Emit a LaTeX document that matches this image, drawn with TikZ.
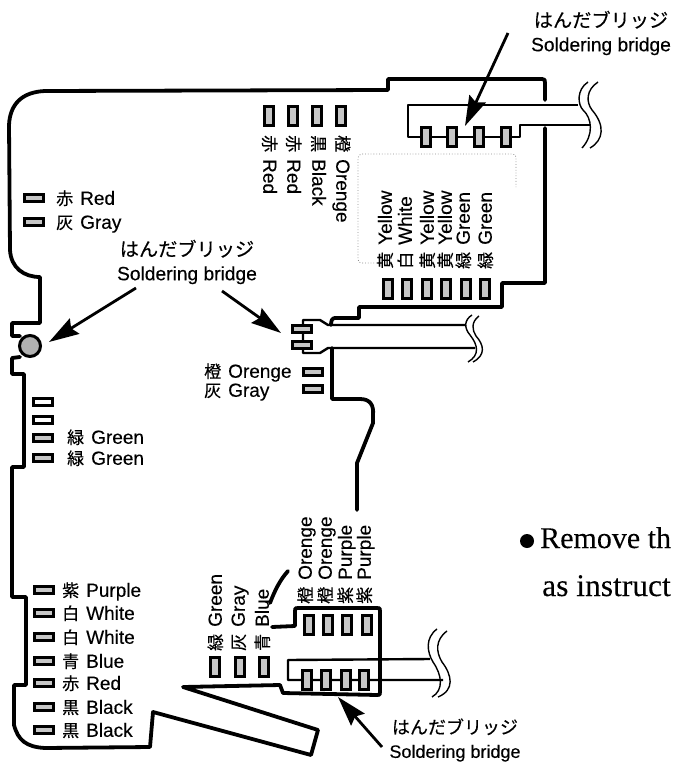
\documentclass[tikz,border=0pt]{standalone}
\usepackage{fontspec}
\setmainfont[FakeBold=0.3]{Liberation Sans}
\newfontfamily\jpf[FakeBold=0.35]{Noto Sans CJK JP}
\newfontfamily\serf[FakeBold=0.15]{Liberation Serif}
\usetikzlibrary{arrows.meta}
\newcommand{\lab}[2]{{\jpf\fontsize{17}{17}\selectfont #1}\hspace{7pt}#2}
\tikzset{
  wall/.style={line width=3.8pt,line join=round,line cap=round},
  wire/.style={line width=2.4pt,line join=round},
  brk/.style={line width=1.4pt},
  padh/.style={draw,line width=3pt,fill=black!22,inner sep=0pt,minimum width=19pt,minimum height=7pt},
  padv/.style={draw,line width=3pt,fill=black!22,inner sep=0pt,minimum width=8.5pt,minimum height=19pt},
  padw/.style={draw,line width=2.6pt,fill=white,inner sep=0pt,minimum width=19pt,minimum height=7pt},
  txt/.style={inner sep=0pt,anchor=west,text height=13.5pt,text depth=0pt,font=\fontsize{19}{20}\selectfont},
  dn/.style={txt,rotate=-90},
  up/.style={txt,rotate=90},
  call/.style={inner sep=0pt,align=center,font=\fontsize{19.2}{24}\selectfont},
  poke/.style={line width=2.8pt,-{Stealth[length=30pt,width=18pt,inset=4pt]}},
  big/.style={inner sep=0pt,anchor=base west,font=\serf\fontsize{31.5}{32}\selectfont}
}
\begin{document}
\begin{tikzpicture}[x=1pt,y=-1pt]
\useasboundingbox (0,0) rectangle (673,762);
% housing outline
\draw[wall] (545,100) -- (545,83) .. controls (545,80) and (545,79) .. (542,79) -- (388,79) -- (388,90)
  -- (45,91) .. controls (22,92) and (10,104) .. (9,125) -- (10,250) .. controls (11,268) and (24,277) .. (40,277)
  -- (40,323) -- (12,323) -- (12,336) -- (20,336);
\draw[wall] (20,357) -- (12,358) -- (12,374) -- (24,374) -- (24,467) -- (12,467) -- (12,597) -- (26,597)
  -- (26,685) -- (14,685) -- (14,725) .. controls (18,740) and (26,747) .. (45,748) -- (150,747) -- (153,712)
  -- (311,755) -- (318,730) -- (183,687) -- (280,685) -- (283,693) -- (377,695) .. controls (380,695) and (380,695) .. (380,692)
  -- (380,611) .. controls (380,608) and (380,608) .. (377,608) -- (298,608) .. controls (295,608) and (295,608) .. (295,611)
  -- (295,626) -- (272,627);
\draw[wall] (545,128) -- (545,283) -- (502,283) -- (502,307) -- (359,307) -- (359,318) -- (335,318) .. controls (332,318) and (331,321) .. (331,325);
\draw[wall] (332,348) -- (332,399) -- (360,399) .. controls (370,399) and (374,405) .. (373,415) -- (373,423) -- (357,463) -- (357,510);
\draw[wall] (288,571) .. controls (280,580) and (275,590) .. (270,603);
% dotted panel
\draw[dotted,black!45,line width=.8pt] (377,263) -- (362,263) .. controls (359,263) and (358,262) .. (358,259) -- (358,160) .. controls (358,156) and (359,154) .. (363,154)
  -- (512,154) .. controls (515,154) and (516,155) .. (516,158) -- (516,187);
% soldering circle
\node[circle,draw,line width=3pt,fill=black!30,minimum size=21pt,inner sep=0pt] (blob) at (30,346) {};
% top cable
\draw[wire] (578,105) -- (408,105) -- (408,137) -- (520,137) -- (520,125) -- (590,125);
\draw[brk] (588,82) .. controls (576,90) and (578,105) .. (583,110) .. controls (592,118) and (594,135) .. (582,148);
\draw[brk] (598,82) .. controls (586,90) and (586,102) .. (592,110) .. controls (605,125) and (604,140) .. (590,148);
% middle cable
\draw[wire] (465,325) -- (328,325) -- (320,320) -- (303,320) -- (303,353) -- (320,353) -- (328,348) -- (475,348);
\draw[brk] (472,315) .. controls (464,320) and (464,328) .. (470,335) .. controls (478,345) and (480,355) .. (468,362);
\draw[brk] (479,316) .. controls (471,322) and (472,330) .. (476,336) .. controls (484,345) and (486,355) .. (473,362);
% bottom cable
\draw[wire] (430,659) -- (288,660) -- (288,680) -- (443,680);
\draw[brk] (437,629) .. controls (425,638) and (427,652) .. (433,662) .. controls (442,675) and (444,690) .. (432,697);
\draw[brk] (447,631) .. controls (435,640) and (436,652) .. (442,662) .. controls (452,675) and (455,690) .. (438,697);
% pads
\foreach \n/\x in {a/269,b/293,c/317,d/341}{\node[padv] (t\n) at (\x,116) {};}
\foreach \n/\x in {a/426,b/452,c/479,d/506}{\node[padv] (q\n) at (\x,137) {};}
\foreach \n/\x in {a/388,b/407,c/427,d/446,e/466,f/485}{\node[padv] (y\n) at (\x,289) {};}
\foreach \n/\y in {a/198,b/222}{\node[padh] (l\n) at (34,\y) {};}
\node[padh] (ma) at (302,329) {};
\node[padh] (mb) at (302,345) {};
\node[padh] (oa) at (313,372) {};
\node[padh] (ob) at (313,389) {};
\node[padw] (wa) at (43,402) {};
\node[padw] (wb) at (43,420) {};
\node[padh] (ga) at (43,438) {};
\node[padh] (gb) at (43,458) {};
\foreach \n/\y in {a/590,b/613,c/637,d/661,e/683,f/707,g/730}{\node[padh] (p\n) at (44,\y) {};}
\node[padv] (ba) at (215,667) {};
\node[padv] (bb) at (240,667) {};
\node[padv] (bc) at (264,667) {};
\foreach \n/\x in {a/309,b/328,c/347,d/367}{\node[padv] (u\n) at (\x,625) {};}
\foreach \n/\x in {a/307,b/326,c/346,d/364}{\node[padv] (v\n) at (\x,680) {};}
% labels
\node[dn] (n1) at (270,135) {\lab{赤}{Red}};
\node[dn] (n2) at (294,135) {\lab{赤}{Red}};
\node[dn] (n3) at (319,135) {\lab{黒}{Black}};
\node[dn] (n4) at (343,135) {\lab{橙}{Orenge}};
\node[up] (n5) at (385,269) {\lab{黄}{Yellow}};
\node[up] (n6) at (405,269) {\lab{白}{White}};
\node[up] (n7) at (427,269) {\lab{黄}{Yellow}};
\node[up] (n8) at (445,269) {\lab{黄}{Yellow}};
\node[up] (n9) at (463,269) {\lab{緑}{Green}};
\node[up] (n10) at (485,269) {\lab{緑}{Green}};
\node[txt] (n11) at (56,198) {\lab{赤}{Red}};
\node[txt] (n12) at (56,222) {\lab{灰}{Gray}};
\node[txt] (n13) at (204,371) {\lab{橙}{Orenge}};
\node[txt] (n14) at (204,390) {\lab{灰}{Gray}};
\node[txt] (n15) at (67,437) {\lab{緑}{Green}};
\node[txt] (n16) at (67,458) {\lab{緑}{Green}};
\node[txt] (n17) at (62,590) {\lab{紫}{Purple}};
\node[txt] (n18) at (62,613) {\lab{白}{White}};
\node[txt] (n19) at (62,637) {\lab{白}{White}};
\node[txt] (n20) at (62,661) {\lab{青}{Blue}};
\node[txt] (n21) at (62,683) {\lab{赤}{Red}};
\node[txt] (n22) at (62,707) {\lab{黒}{Black}};
\node[txt] (n23) at (62,730) {\lab{黒}{Black}};
\node[up] (n24) at (215,651) {\lab{緑}{Green}};
\node[up] (n25) at (238,651) {\lab{灰}{Gray}};
\node[up] (n26) at (262,651) {\lab{青}{Blue}};
\node[up] (n27) at (305,604) {\lab{橙}{Orenge}};
\node[up] (n28) at (325,604) {\lab{橙}{Orenge}};
\node[up] (n29) at (345,604) {\lab{紫}{Purple}};
\node[up] (n30) at (364,604) {\lab{紫}{Purple}};
% callouts
\node[call] (c1) at (601,33) {{\jpf はんだブリッジ}\\Soldering bridge};
\node[call] (c2) at (187,262) {{\jpf はんだブリッジ}\\Soldering bridge};
\node[call,font=\fontsize{18}{24}\selectfont] (c3) at (455,740) {{\jpf はんだブリッジ}\\Soldering bridge};
\coordinate (s1) at (508,33);
\coordinate (e1) at (465,126);
\coordinate (s2) at (136,288);
\coordinate (e2) at (49,342);
\coordinate (s3) at (222,291);
\coordinate (e3) at (281,333);
\coordinate (s4) at (382,747);
\coordinate (e4) at (338,697);
\draw[poke] (s1) -- (e1);
\draw[poke] (s2) -- (e2);
\draw[poke] (s3) -- (e3);
\draw[poke] (s4) -- (e4);
% body text
\node[circle,fill,inner sep=0pt,minimum size=14pt] (bul) at (527,541) {};
\node[big,font=\serf\fontsize{30}{32}\selectfont] (r1) at (540,548) {Remove th};
\node[big] (r2) at (542,596) {as instruct};
\end{tikzpicture}
\end{document}
